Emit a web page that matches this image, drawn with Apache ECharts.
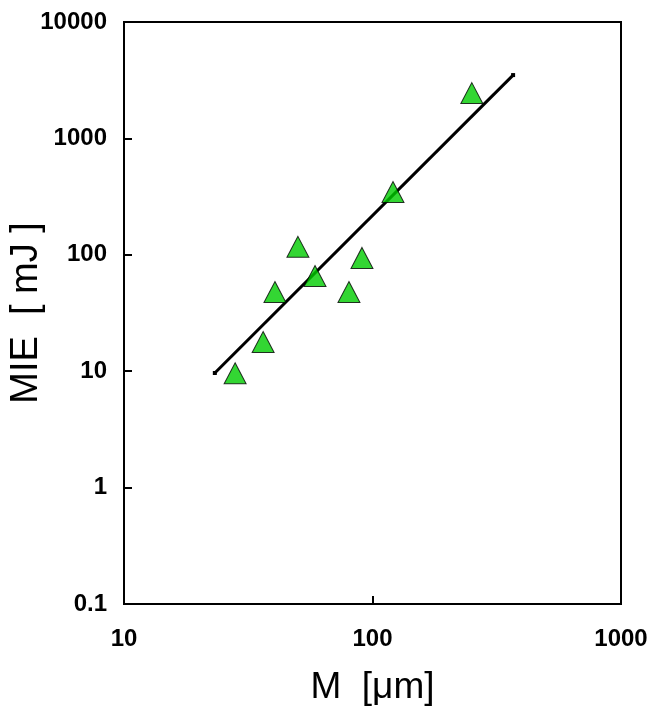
<!DOCTYPE html>
<html>
<head>
<meta charset="utf-8">
<script src="https://cdn.jsdelivr.net/npm/echarts@6/dist/echarts.min.js"></script>
<style>html,body{margin:0;padding:0;background:#fff}#c{width:650px;height:711px}</style>
</head>
<body>
<div id="c"></div>
<script>
// Data
const particleSize = [28, 36.3, 40.5, 50.1, 58.7, 80.4, 90.7, 120.9, 251];
const mieValues    = [9.6, 17.8, 47.9, 117, 65.7, 47.9, 94, 346, 2450];
const fitLineX = [23.2, 368];
const fitLineY = [9.65, 3500];
const xTickLabels = [10, 100, 1000];
const yTickLabels = [0.1, 1, 10, 100, 1000, 10000];

const chart = echarts.init(document.getElementById('c'));
const labelFont = {fontFamily: 'Liberation Sans, Arial, sans-serif', fontWeight: 'bold', fontSize: 24, color: '#000'};
chart.setOption({
  animation: false,
  backgroundColor: '#fff',
  grid: {left: 124, right: 29, top: 22, bottom: 107, containLabel: false, outerBoundsMode: 'none',
         show: true, borderColor: '#000', borderWidth: 2, backgroundColor: 'transparent'},
  xAxis: {
    type: 'log', logBase: 10, min: xTickLabels[0], max: xTickLabels[xTickLabels.length - 1],
    name: 'M  [\u03bcm]', nameLocation: 'middle', nameGap: 65, nameMoveOverlap: false,
    nameTextStyle: {fontFamily: 'Liberation Sans, Arial, sans-serif', fontSize: 37, color: '#000'},
    axisLine: {show: true, lineStyle: {color: '#000', width: 2}},
    axisTick: {show: true, inside: true, length: 8, lineStyle: {color: '#000', width: 2}},
    axisLabel: Object.assign({margin: 23, formatter: v => String(v)}, labelFont),
    splitLine: {show: false}, minorTick: {show: false}
  },
  yAxis: {
    type: 'log', logBase: 10, min: yTickLabels[0], max: yTickLabels[yTickLabels.length - 1],
    name: 'MIE  [ mJ ]', nameLocation: 'middle', nameGap: 78, nameMoveOverlap: false,
    nameTextStyle: {fontFamily: 'Liberation Sans, Arial, sans-serif', fontSize: 38, color: '#000'},
    axisLine: {show: true, lineStyle: {color: '#000', width: 2}},
    axisTick: {show: true, inside: true, length: 8, lineStyle: {color: '#000', width: 2}},
    axisLabel: Object.assign({margin: 17, formatter: v => (v < 1 ? v.toFixed(1) : String(Math.round(v)))}, labelFont),
    splitLine: {show: false}
  },
  series: [
    {
      type: 'line',
      data: fitLineX.map((x, i) => [x, fitLineY[i]]),
      symbol: 'rect', symbolSize: 4, showSymbol: true,
      itemStyle: {color: '#000'},
      lineStyle: {color: '#000', width: 3},
      z: 2
    },
    {
      type: 'scatter',
      data: particleSize.map((x, i) => [x, mieValues[i]]),
      symbol: 'triangle', symbolSize: [22, 21],
      itemStyle: {color: '#00cc00', borderColor: '#000', borderWidth: 1},
      z: 3
    }
  ]
});
</script>
</body>
</html>
